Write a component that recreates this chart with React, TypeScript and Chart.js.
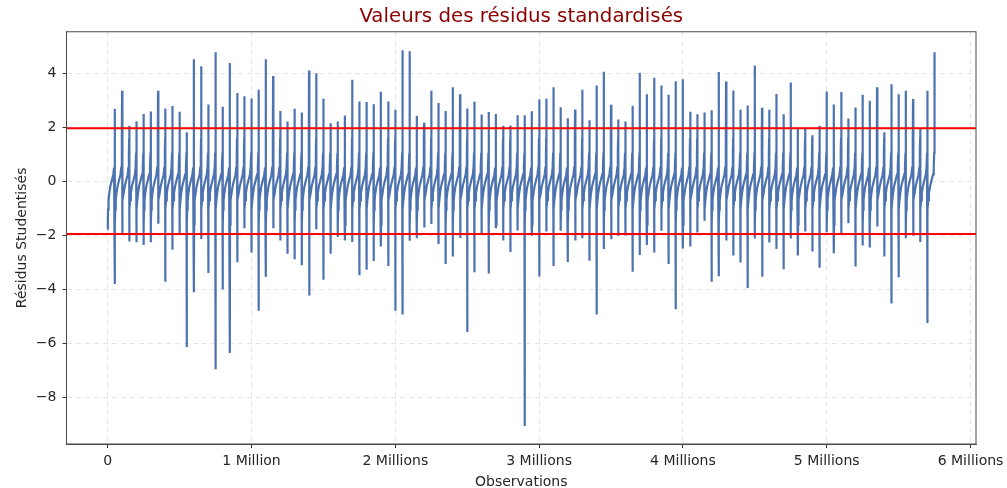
import React, { useEffect, useRef } from "react";
import { Chart, registerables } from "chart.js";

Chart.register(...registerables);

const TITLE = "Valeurs des résidus standardisés";
const X_TITLE = "Observations";
const Y_TITLE = "Résidus Studentisés";
const SEGMENT_SIZE = 50000;
const THRESHOLD = 1.96;
const xTickValues = [0, 1000000, 2000000, 3000000, 4000000, 5000000, 6000000];
const xTickLabels = ["0", "1 Million", "2 Millions", "3 Millions", "4 Millions", "5 Millions", "6 Millions"];
const yTickValues = [-8, -6, -4, -2, 0, 2, 4];

// Lowest residual at the start of each batch of 50 000 sorted observations.
const batchMins = [
  -1.78, -3.81, -1.99, -2.23, -2.26, -2.36, -2.26, -1.58, -3.72, -2.54, -1.93, -6.14, -4.11, -2.14, -3.4, -6.96,
  -4.01, -6.36, -3.0, -1.74, -2.64, -4.8, -3.54, -1.74, -2.2, -2.69, -2.89, -3.11, -4.23, -1.78, -3.65, -2.69,
  -2.07, -2.2, -2.25, -3.48, -3.28, -2.96, -2.42, -3.14, -4.8, -4.94, -2.21, -2.11, -1.72, -1.59, -2.33, -3.07,
  -2.79, -2.1, -5.58, -3.37, -1.95, -3.42, -1.74, -2.2, -2.62, -1.83, -9.06, -2.02, -3.53, -1.86, -3.14, -1.84,
  -2.99, -2.2, -2.11, -2.95, -4.94, -2.51, -2.15, -2.02, -2.01, -3.35, -2.73, -2.36, -2.64, -1.84, -3.07, -4.74,
  -2.49, -2.42, -1.9, -1.47, -3.72, -3.52, -2.2, -2.75, -3.01, -3.96, -2.12, -3.54, -2.27, -2.51, -3.26, -2.12,
  -2.75, -1.86, -2.6, -3.21, -1.89, -2.67, -1.93, -1.56, -3.16, -2.38, -2.46, -1.68, -2.79, -4.53, -3.56, -2.11,
  -2.02, -2.25, -5.25,
];

// Highest residual at the end of each batch.
const batchMaxs = [
  2.68, 3.35, 2.05, 2.22, 2.49, 2.58, 3.35, 2.69, 2.78, 2.57, 1.81, 4.51, 4.25, 2.84, 4.77, 2.75,
  4.37, 3.26, 3.14, 3.06, 3.38, 4.51, 3.89, 2.6, 2.21, 2.68, 2.54, 4.1, 3.99, 3.05, 2.14, 2.21,
  2.43, 3.75, 2.95, 2.93, 2.85, 3.31, 2.95, 2.64, 4.85, 4.81, 2.42, 2.16, 3.35, 2.89, 2.6, 3.48,
  3.22, 2.69, 2.94, 2.47, 2.56, 2.49, 2.05, 2.06, 2.44, 2.44, 2.59, 3.02, 3.05, 3.48, 2.74, 2.33,
  2.65, 3.38, 2.25, 3.54, 4.05, 2.83, 2.28, 2.21, 2.79, 4.01, 3.22, 3.83, 3.54, 3.2, 3.7, 3.77,
  2.57, 2.48, 2.54, 2.62, 4.04, 3.69, 3.36, 2.64, 2.8, 4.28, 2.72, 2.64, 3.23, 2.48, 3.65, 1.94,
  1.93, 1.7, 2.05, 3.32, 2.84, 3.3, 2.32, 2.73, 3.2, 2.98, 3.48, 1.81, 3.59, 3.22, 3.35, 3.04,
  1.95, 3.35, 4.77,
];

// Shape of one sorted batch: position inside the batch and residual.
const toothShare = [0.015, 0.05, 0.12, 0.22, 0.36, 0.5, 0.64, 0.78, 0.88, 0.95, 0.985];
const toothLevel = [-1.6, -1.05, -0.7, -0.45, -0.2, -0.05, 0.1, 0.25, 0.5, 1.05, 1.6];

const residualPoints = batchMins.flatMap((low, i) => {
  const high = batchMaxs[i];
  const at = (share: number) => (i + share) * SEGMENT_SIZE;
  return [
    { x: at(0), y: low },
    ...toothShare.map((s, j) => ({ x: at(s), y: Math.min(high, Math.max(low, toothLevel[j])) })),
    { x: at(1), y: high },
  ];
});

const X_MIN = -286500;
const X_MAX = 6038000;
const Y_MIN = -9.73;
const Y_MAX = 5.53;

const FONT = "'DejaVu Sans'";
const INK = "#262626";

const framePlugin = {
  id: "frame",
  afterDatasetsDraw(chart: any) {
    const { ctx, chartArea: a } = chart;
    ctx.save();
    ctx.strokeStyle = "#4a4a4a";
    ctx.lineWidth = 1;
    ctx.strokeRect(a.left, a.top, a.right - a.left, a.bottom - a.top);
    ctx.restore();
  },
};

export default function App() {
  const ref = useRef<HTMLCanvasElement>(null);
  useEffect(() => {
    const grid = {
      color: "rgba(170,170,170,0.3)",
      lineWidth: 1,
      drawTicks: true,
      tickColor: "#333",
      tickLength: 4,
      tickWidth: 1,
      tickBorderDash: [],
    };
    const chart = new Chart(ref.current!, {
      type: "line",
      data: {
        datasets: [
          {
            label: "Résidus",
            data: residualPoints,
            borderColor: "#4c72b0",
            borderWidth: 2.2,
            pointRadius: 0,
            order: 2,
          },
          {
            label: "+1.96",
            data: [
              { x: X_MIN, y: THRESHOLD },
              { x: X_MAX, y: THRESHOLD },
            ],
            borderColor: "#ff0000",
            borderWidth: 2,
            pointRadius: 0,
            order: 1,
          },
          {
            label: "-1.96",
            data: [
              { x: X_MIN, y: -THRESHOLD },
              { x: X_MAX, y: -THRESHOLD },
            ],
            borderColor: "#ff0000",
            borderWidth: 2,
            pointRadius: 0,
            order: 1,
          },
        ],
      },
      options: {
        responsive: false,
        animation: false,
        layout: { padding: { top: 0, right: 31, bottom: 0, left: 0 } },
        plugins: {
          legend: { display: false },
          tooltip: { enabled: false },
          title: {
            display: true,
            text: TITLE,
            color: "#8b0000",
            fullSize: false,
            font: { family: FONT, size: 19.8, weight: "normal" },
            padding: { top: 5, bottom: 3 },
          },
        },
        scales: {
          x: {
            type: "linear",
            min: X_MIN,
            max: X_MAX,
            grid: grid as any,
            border: { color: "#4a4a4a", dash: [5, 4] } as any,
            afterBuildTicks: (s: any) => {
              s.ticks = xTickValues.map((value) => ({ value }));
            },
            afterFit: (s: any) => {
              s.height = 44;
              s.paddingRight = 0;
            },
            title: {
              display: true,
              text: X_TITLE,
              color: INK,
              font: { family: FONT, size: 14 },
              padding: { top: 5, bottom: -3 },
            },
            ticks: {
              autoSkip: false,
              maxRotation: 0,
              color: INK,
              padding: 5,
              font: { family: FONT, size: 14 },
              callback: (v: any) => xTickLabels[xTickValues.indexOf(Number(v))],
            },
          },
          y: {
            type: "linear",
            min: Y_MIN,
            max: Y_MAX,
            grid: grid as any,
            border: { color: "#4a4a4a", dash: [5, 4] } as any,
            afterBuildTicks: (s: any) => {
              s.ticks = yTickValues.map((value) => ({ value }));
            },
            afterFit: (s: any) => {
              s.width = 66.5;
            },
            title: {
              display: true,
              text: Y_TITLE,
              color: INK,
              font: { family: FONT, size: 14 },
              padding: { top: 14, bottom: 4 },
            },
            ticks: {
              autoSkip: false,
              color: INK,
              padding: 6,
              font: { family: FONT, size: 14 },
              callback: (v: any) => String(v).replace("-", "\u2212"),
            },
          },
        },
      },
      plugins: [framePlugin],
    } as any);
    return () => chart.destroy();
  }, []);
  return (
    <div style={{ position: "fixed", left: 0, top: 0, width: 1007, height: 488, background: "#fff" }}>
      <canvas ref={ref} width={1007} height={488} style={{ display: "block" }} />
    </div>
  );
}
